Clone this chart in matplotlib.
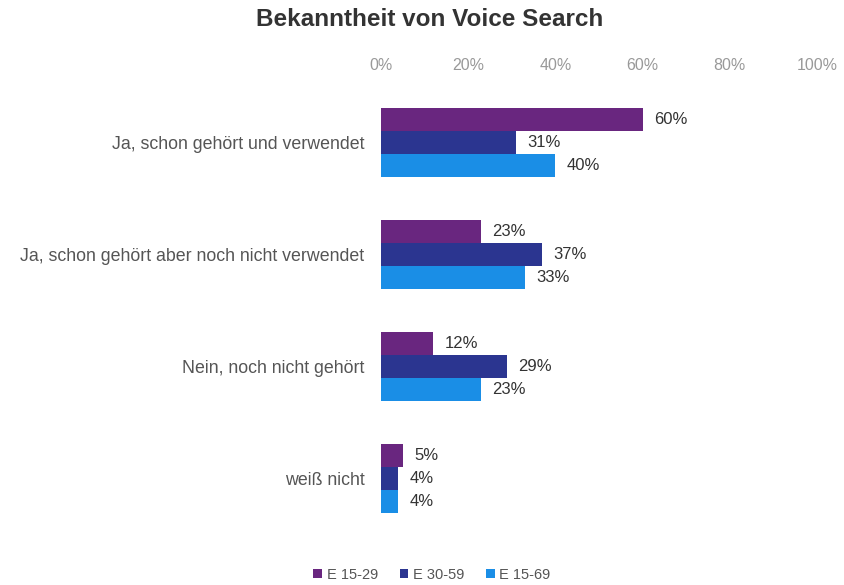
import matplotlib
matplotlib.use("Agg")
import matplotlib.pyplot as plt
import numpy as np
from matplotlib.patches import Patch

plt.rcParams["font.family"] = ["Liberation Sans", "DejaVu Sans"]

categories = ["Ja, schon gehört und verwendet",
              "Ja, schon gehört aber noch nicht verwendet",
              "Nein, noch nicht gehört",
              "weiß nicht"]
series_names = ["E 15-29", "E 30-59", "E 15-69"]
e_15_29 = [60, 23, 12, 5]
e_30_59 = [31, 37, 29, 4]
e_15_69 = [40, 33, 23, 4]
tick_values = [0, 20, 40, 60, 80, 100]
tick_labels = ["0%", "20%", "40%", "60%", "80%", "100%"]

colors = ["#69267f", "#2b3590", "#1a8ee6"]

fig = plt.figure(figsize=(8.45, 5.85), dpi=100)
ax = fig.add_axes([381/845, 1-535/585, 436/845, 449/585])

y = np.arange(len(categories))
h = 0.205
for i, (vals, c) in enumerate(zip([e_15_29, e_30_59, e_15_69], colors)):
    pos = y + (i - 1) * h
    ax.barh(pos, vals, height=h, color=c, edgecolor="none")
    for p, v in zip(pos, vals):
        ax.annotate(f"{v}%", (v, p), xytext=(8, 0), textcoords="offset points",
                    va="center", ha="left", fontsize=12, color="#333333")

ax.set_xlim(0, 100)
ax.set_ylim(3.5, -0.5)
ax.set_yticks(y)
ax.set_yticklabels(categories, fontsize=12.8, color="#555555")
ax.set_xticks(tick_values)
ax.set_xticklabels(tick_labels, fontsize=11.5, color="#999999")
ax.xaxis.tick_top()
ax.tick_params(axis="x", length=0, pad=9)
ax.tick_params(axis="y", length=0, pad=12)
for s in ax.spines.values():
    s.set_visible(False)

fig.text(430/845, 1-20/585, "Bekanntheit von Voice Search", ha="center", va="center",
         fontsize=17.5, fontweight="bold", color="#333333")

handles = [Patch(facecolor=c, edgecolor="none") for c in colors]
fig.legend(handles, series_names, loc="center", bbox_to_anchor=(432/845, 1-575/585),
           ncol=3, frameon=False, fontsize=10.5, handlelength=0.6, handleheight=0.6,
           handletextpad=0.3, columnspacing=1.5, labelcolor="#555555")

fig.savefig("out.png", dpi=100)
